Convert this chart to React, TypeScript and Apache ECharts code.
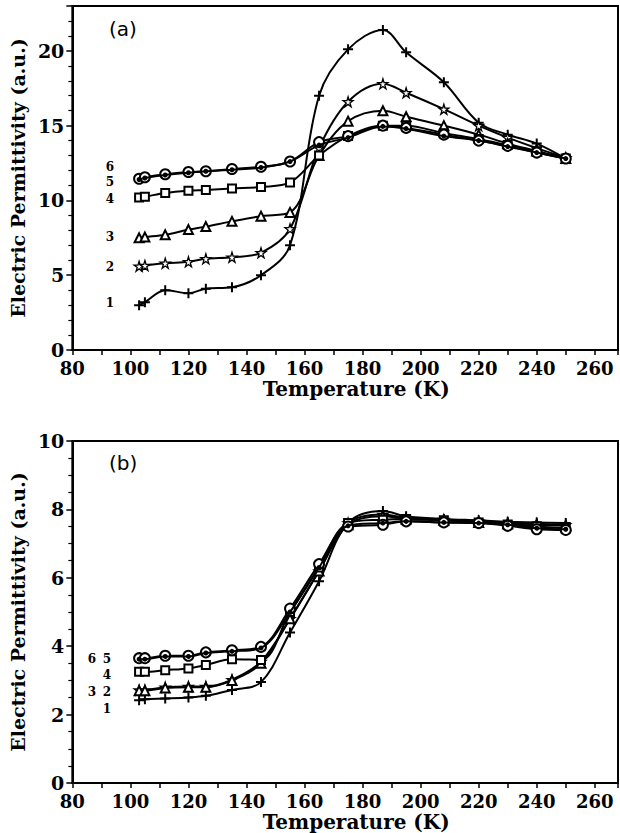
import React, { useEffect, useRef } from "react";
import * as echarts from "echarts";

const temps = [103, 105, 112, 120, 126, 135, 145, 155, 165, 175, 187, 195, 208, 220, 230, 240, 250];

// Panel (a)
const a1 = [3.0, 3.2, 4.0, 3.8, 4.1, 4.2, 5.0, 7.0, 17.0, 20.1, 21.4, 19.9, 17.9, 15.2, 14.4, 13.8, 12.8];
const a2 = [5.6, 5.65, 5.8, 5.9, 6.1, 6.2, 6.5, 8.1, 13.5, 16.6, 17.8, 17.2, 16.1, 15.0, 14.2, 13.5, 12.85];
const a3 = [7.5, 7.55, 7.7, 8.05, 8.25, 8.6, 8.95, 9.2, 13.0, 15.3, 16.0, 15.6, 15.0, 14.4, 13.8, 13.3, 12.8];
const a4 = [10.2, 10.25, 10.5, 10.65, 10.7, 10.8, 10.9, 11.2, 13.0, 14.3, 15.0, 15.0, 14.5, 14.1, 13.7, 13.25, 12.8];
const a5 = [11.45, 11.55, 11.75, 11.9, 11.95, 12.1, 12.25, 12.6, 13.9, 14.3, 15.0, 14.85, 14.4, 14.0, 13.65, 13.2, 12.8];
const a6 = [11.4, 11.5, 11.7, 11.85, 11.95, 12.05, 12.2, 12.6, 13.7, 14.2, 14.95, 14.8, 14.3, 14.0, 13.6, 13.2, 12.8];

// Panel (b)
const b1 = [2.42, 2.45, 2.47, 2.5, 2.55, 2.72, 2.95, 4.4, 5.9, 7.6, 7.95, 7.8, 7.72, 7.68, 7.64, 7.62, 7.6];
const b2 = [2.72, 2.72, 2.8, 2.82, 2.82, 3.02, 3.55, 4.8, 6.2, 7.6, 7.85, 7.75, 7.7, 7.65, 7.6, 7.58, 7.55];
const b3 = [2.7, 2.7, 2.78, 2.8, 2.8, 3.0, 3.5, 4.8, 6.2, 7.55, 7.8, 7.72, 7.68, 7.62, 7.58, 7.55, 7.52];
const b4 = [3.25, 3.25, 3.3, 3.35, 3.45, 3.62, 3.6, 5.0, 6.3, 7.6, 7.7, 7.72, 7.68, 7.62, 7.56, 7.5, 7.45];
const b5 = [3.65, 3.65, 3.72, 3.72, 3.82, 3.88, 3.98, 5.1, 6.4, 7.5, 7.55, 7.65, 7.62, 7.6, 7.52, 7.42, 7.4];
const b6 = [3.62, 3.62, 3.7, 3.7, 3.8, 3.85, 3.95, 5.0, 6.3, 7.52, 7.6, 7.65, 7.62, 7.6, 7.55, 7.45, 7.42];

const xTicks = [80, 100, 120, 140, 160, 180, 200, 220, 240, 260];
const yTicksA = [0, 5, 10, 15, 20];
const yTicksB = [0, 2, 4, 6, 8, 10];

const panelLabels = ["(a)", "(b)"];
const seriesNames = ["1", "2", "3", "4", "5", "6"];

const STAR = "path://M50,0 L61,35 L98,35 L68,57 L79,91 L50,70 L21,91 L32,57 L2,35 L39,35 Z";
const PLUS = "path://M4,0L6,0L6,4L10,4L10,6L6,6L6,10L4,10L4,6L0,6L0,4L4,4Z";

const markerStyles = [
  { symbol: PLUS, symbolSize: 10, itemStyle: { color: "#000" } },
  { symbol: STAR, symbolSize: 10, itemStyle: { color: "#fff", borderColor: "#000", borderWidth: 1.3 } },
  { symbol: "emptyTriangle", symbolSize: 9, itemStyle: { color: "#000", borderWidth: 1.4 } },
  { symbol: "emptyRect", symbolSize: 8, itemStyle: { color: "#000", borderWidth: 1.5 } },
  { symbol: "emptyCircle", symbolSize: 10, itemStyle: { color: "#000", borderWidth: 1.5 } },
  { symbol: "circle", symbolSize: 5, itemStyle: { color: "#000" } },
];

const FONT = '"DejaVu Serif", serif';

function axisX(gridIndex: number) {
  return {
    type: "value",
    gridIndex,
    min: 80,
    max: 268,
    interval: 20,
    name: "Temperature (K)",
    nameLocation: "middle",
    nameGap: 29,
    nameTextStyle: { fontFamily: FONT, fontWeight: "bold", fontSize: 20, color: "#000", padding: [0, 0, 0, 22] },
    axisLine: { show: true, lineStyle: { color: "#000", width: 2 } },
    axisTick: { show: true, inside: false, length: 5, lineStyle: { color: "#000", width: 1.5 } },
    minorTick: { show: true, splitNumber: 2, length: 5, lineStyle: { color: "#000", width: 1.5 } },
    splitLine: { show: false },
    axisLabel: {
      showMaxLabel: false,
      margin: 9,
      fontFamily: FONT,
      fontWeight: "bold",
      fontSize: 18,
      color: "#000",
      formatter: (v: number) => (xTicks.includes(v) ? String(v) : ""),
    },
  };
}

function axisY(gridIndex: number, max: number, interval: number, minorSplit: number, ticks: number[]) {
  return {
    type: "value",
    gridIndex,
    min: 0,
    max,
    interval,
    name: "Electric Permittivity (a.u.)",
    nameLocation: "middle",
    nameGap: 43,
    nameTextStyle: { fontFamily: FONT, fontWeight: "bold", fontSize: 19, color: "#000" },
    axisLine: { show: true, lineStyle: { color: "#000", width: 2 } },
    axisTick: { show: true, inside: false, length: 6, lineStyle: { color: "#000", width: 1.5 } },
    minorTick: { show: true, splitNumber: minorSplit, length: 4, lineStyle: { color: "#000", width: 1.2 } },
    splitLine: { show: false },
    axisLabel: {
      showMaxLabel: ticks.includes(max),
      margin: 8,
      fontFamily: FONT,
      fontWeight: "bold",
      fontSize: 19,
      color: "#000",
      formatter: (v: number) => (ticks.includes(v) ? String(v) : ""),
    },
  };
}

function makeSeries(data: number[], idx: number, axisIndex: number) {
  const m = markerStyles[idx];
  return {
    type: "line",
    name: seriesNames[idx] + (axisIndex === 0 ? "a" : "b"),
    xAxisIndex: axisIndex,
    yAxisIndex: axisIndex,
    data: temps.map((t, i) => [t, data[i]]),
    smooth: 0.35,
    symbol: m.symbol,
    symbolSize: m.symbolSize,
    showAllSymbol: true,
    itemStyle: m.itemStyle,
    lineStyle: { color: "#000", width: 2 },
    z: 3 + idx,
  };
}

function numLabel(text: string, x: number, y: number) {
  return {
    type: "text",
    x,
    y,
    style: {
      text,
      font: 'bold 12px "DejaVu Serif"',
      fill: "#000",
      align: "center",
      verticalAlign: "middle",
      textAlign: "center",
      textVerticalAlign: "middle",
    },
  };
}

export default function App() {
  const ref = useRef<HTMLDivElement>(null);
  useEffect(() => {
    if (!ref.current) return;
    const chart = echarts.init(ref.current, undefined, { renderer: "svg" });
    const option = {
      animation: false,
      backgroundColor: "#fff",
      grid: [
        { left: 70, top: 6, width: 548, height: 344, show: true, borderColor: "#000", borderWidth: 2, backgroundColor: "transparent" },
        { left: 70, top: 441, width: 548, height: 343, show: true, borderColor: "#000", borderWidth: 2, backgroundColor: "transparent" },
      ],
      xAxis: [axisX(0), axisX(1)],
      yAxis: [axisY(0, 23, 5, 5, yTicksA), axisY(1, 10, 2, 4, yTicksB)],
      series: [
        makeSeries(a1, 0, 0),
        makeSeries(a2, 1, 0),
        makeSeries(a3, 2, 0),
        makeSeries(a4, 3, 0),
        makeSeries(a5, 4, 0),
        makeSeries(a6, 5, 0),
        makeSeries(b1, 0, 1),
        makeSeries(b2, 1, 1),
        makeSeries(b3, 2, 1),
        makeSeries(b4, 3, 1),
        makeSeries(b5, 4, 1),
        makeSeries(b6, 5, 1),
      ],
      graphic: [
        {
          type: "text",
          x: 109,
          y: 29,
          style: { text: panelLabels[0], font: '20px "DejaVu Sans"', fill: "#000", verticalAlign: "middle", textVerticalAlign: "middle" },
        },
        {
          type: "text",
          x: 109,
          y: 463,
          style: { text: panelLabels[1], font: '20px "DejaVu Sans"', fill: "#000", verticalAlign: "middle", textVerticalAlign: "middle" },
        },
        numLabel(seriesNames[5], 110, 167),
        numLabel(seriesNames[4], 110, 182),
        numLabel(seriesNames[3], 110, 199),
        numLabel(seriesNames[2], 110, 237),
        numLabel(seriesNames[1], 110, 267),
        numLabel(seriesNames[0], 110, 303),
        numLabel(seriesNames[5], 92, 659),
        numLabel(seriesNames[4], 107, 659),
        numLabel(seriesNames[3], 107, 675),
        numLabel(seriesNames[2], 92, 692),
        numLabel(seriesNames[1], 107, 692),
        numLabel(seriesNames[0], 107, 709),
      ],
    };
    chart.setOption(option as any);
    return () => chart.dispose();
  }, []);
  return (
    <div
      ref={ref}
      style={{ position: "fixed", left: 0, top: 0, width: 620, height: 833, background: "#fff" }}
    />
  );
}
